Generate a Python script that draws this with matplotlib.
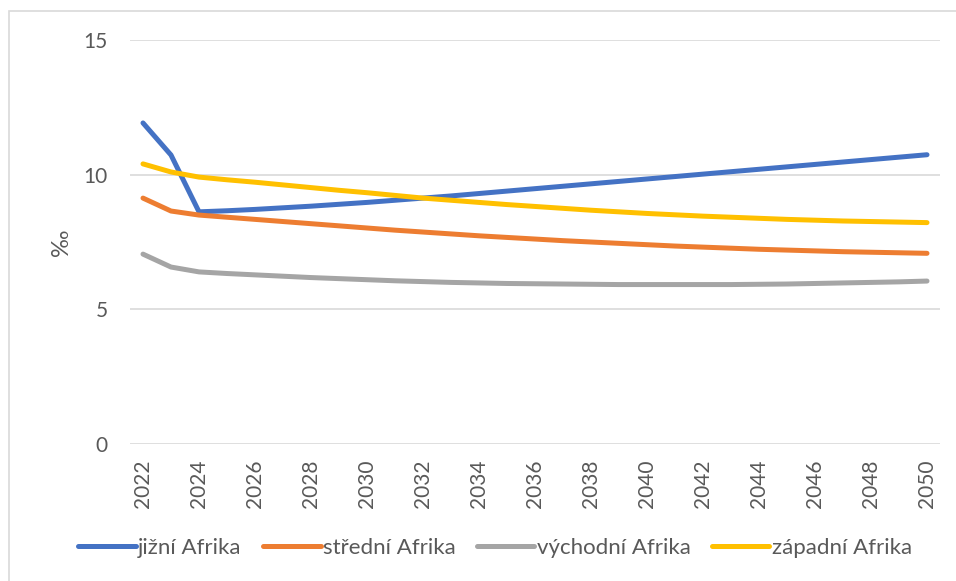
import matplotlib
matplotlib.use("Agg")
import matplotlib.pyplot as plt
from matplotlib.patches import Rectangle

plt.rcParams['font.family'] = ['Lato', 'DejaVu Sans']

years = list(range(2022, 2051))
tick_years = list(range(2022, 2051, 2))

series_names = ["jižní Afrika", "střední Afrika", "východní Afrika", "západní Afrika"]
colors = ["#4472C4", "#ED7D31", "#A5A5A5", "#FFC000"]

jizni = [11.92, 10.73, 8.62, 8.66, 8.71, 8.77, 8.83, 8.90, 8.97, 9.05, 9.13, 9.21,
         9.30, 9.39, 9.48, 9.57, 9.66, 9.75, 9.84, 9.93, 10.02, 10.11, 10.20, 10.29,
         10.38, 10.47, 10.56, 10.65, 10.74]
stredni = [9.13, 8.65, 8.50, 8.42, 8.34, 8.26, 8.18, 8.10, 8.02, 7.94, 7.87, 7.80,
           7.73, 7.67, 7.61, 7.55, 7.50, 7.45, 7.40, 7.35, 7.31, 7.27, 7.23, 7.20,
           7.17, 7.14, 7.12, 7.10, 7.08]
vychodni = [7.05, 6.57, 6.39, 6.33, 6.28, 6.23, 6.18, 6.14, 6.10, 6.06, 6.03, 6.00,
            5.98, 5.96, 5.95, 5.94, 5.93, 5.92, 5.92, 5.92, 5.92, 5.92, 5.93, 5.94,
            5.96, 5.98, 6.00, 6.02, 6.05]
zapadni = [10.40, 10.10, 9.91, 9.81, 9.72, 9.62, 9.52, 9.42, 9.33, 9.23, 9.13, 9.05,
           8.97, 8.89, 8.82, 8.75, 8.68, 8.62, 8.56, 8.51, 8.46, 8.42, 8.38, 8.34,
           8.31, 8.28, 8.26, 8.24, 8.22]

W, H = 956, 581
fig = plt.figure(figsize=(W / 100, H / 100), dpi=100)
fig.patch.set_facecolor("white")

# chart area outline
fig.patches.append(Rectangle((8.5 / W, -0.1), 1.2, 1 - 10.5 / H + 0.1,
                             transform=fig.transFigure, fill=False,
                             edgecolor="#D9D9D9", linewidth=1.2))

ax = fig.add_axes([130 / W, 1 - 444 / H, (940 - 130) / W, (444 - 40) / H])

text_color = "#595959"
for name, vals, c in zip(series_names, [jizni, stredni, vychodni, zapadni], colors):
    ax.plot(years, vals, color=c, lw=3.6, label=name,
            solid_capstyle="round", solid_joinstyle="round")

ax.set_xlim(2022 - 13 / 28, 2050 + 13 / 28)
ax.set_ylim(0, 15)
ax.set_yticks([0, 5, 10, 15])
ax.set_xticks(tick_years)
ax.set_xticklabels([str(y) for y in tick_years], rotation=90)
ax.grid(axis="y", color="#D9D9D9", lw=1.2)
ax.set_axisbelow(True)
for s in ax.spines.values():
    s.set_visible(False)
ax.tick_params(axis="both", length=0, labelsize=15, labelcolor=text_color)
ax.tick_params(axis="y", pad=16)
ax.tick_params(axis="x", pad=11)

ax.set_ylabel("‰", fontsize=17, color=text_color, labelpad=8)

fig.legend(loc="center", bbox_to_anchor=(495 / W, 1 - 548 / H), ncol=4,
           frameon=False, fontsize=16, handlelength=2.6, handletextpad=0.1,
           columnspacing=0.95, labelcolor=text_color)

fig.savefig("out.png", dpi=100, facecolor="white")
